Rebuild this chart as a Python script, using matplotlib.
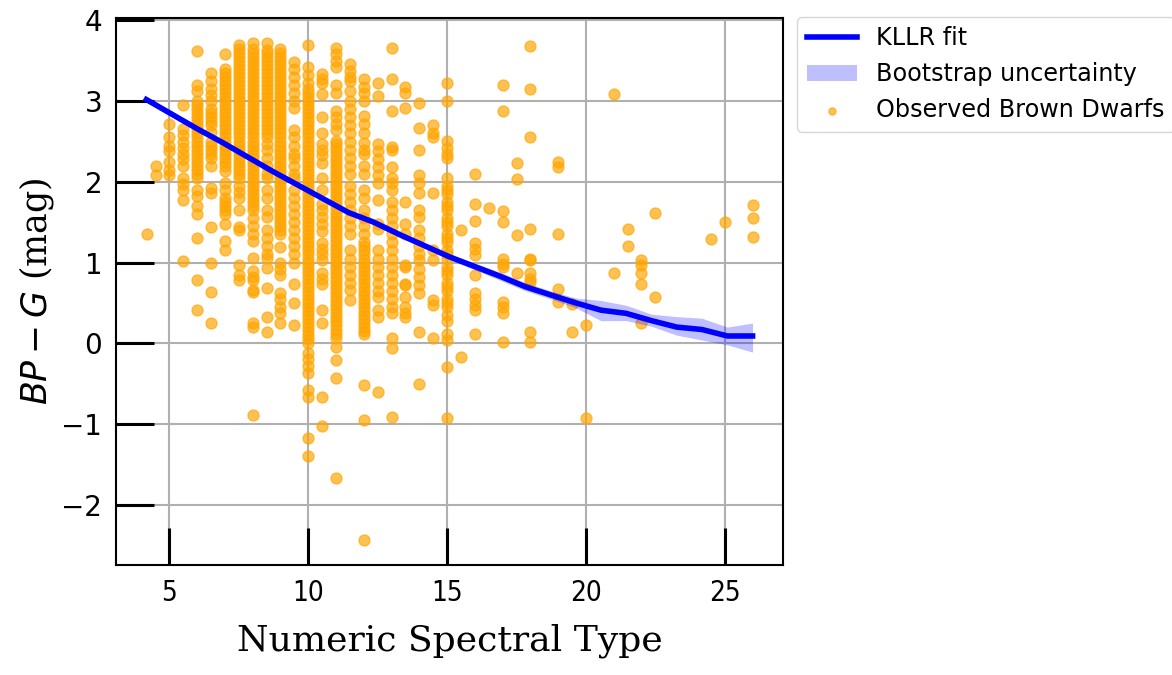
import matplotlib
matplotlib.use("Agg")
import matplotlib.pyplot as plt

# spectral type columns and BP-G colours
spt_cols = [4.2, 4.5, 5.0, 5.5, 6.0, 6.5, 7.0, 7.5, 8.0, 8.5, 9.0, 9.5, 10.0, 10.5,
            11.0, 11.5, 12.0, 12.5, 13.0, 13.5, 14.0, 14.5, 15.0, 15.5, 16.0, 16.5,
            17.0, 17.5, 18.0, 19.0, 19.5, 20.0, 21.0, 21.5, 22.0, 22.5, 24.5, 25.0, 26.0]
bpg_cols = [
    [1.35],
    [2.2, 2.08],
    [2.72, 2.55, 2.45, 2.38, 2.25, 2.15, 2.08],
    [2.95, 2.65, 2.58, 2.5, 2.42, 2.35, 2.28, 2.2, 2.05, 1.97, 1.9, 1.77, 1.02],
    [3.62, 3.2, 3.12, 3.0, 2.9, 2.8, 2.7, 2.6, 2.5, 2.4, 2.3, 2.2, 2.1, 2.05, 1.9, 1.82,
     1.7, 1.6, 1.31, 0.78, 0.41, 2.95, 2.85, 2.75, 2.65, 2.55, 2.45, 2.35, 2.25, 2.15],
    [3.35, 3.25, 3.15, 3.08, 3.0, 2.9, 2.8, 2.7, 2.62, 2.5, 2.4, 2.3, 2.2, 1.93, 1.86,
     1.44, 1.0, 0.63, 0.25, 2.85, 2.75, 2.45, 2.35],
    [3.59, 3.4, 3.3, 3.2, 3.1, 3.0, 2.9, 2.8, 2.7, 2.6, 2.5, 2.4, 2.3, 2.2, 2.14, 1.98,
     1.9, 1.8, 1.7, 1.6, 1.48, 1.27, 1.15, 3.35, 3.25, 3.15, 3.05, 2.95, 2.85, 2.75,
     2.65, 2.55, 2.45, 2.35, 2.25, 1.75, 1.65],
    [3.69, 3.6, 3.5, 3.4, 3.3, 3.2, 3.1, 3.0, 2.9, 2.8, 2.7, 2.6, 2.5, 2.4, 2.3, 2.2,
     2.1, 2.05, 1.95, 1.87, 1.8, 1.65, 1.44, 1.4, 0.97, 0.84, 0.78, 3.65, 3.55, 3.45,
     3.35, 3.25, 3.15, 3.05, 2.95, 2.85, 2.75, 2.65, 2.55, 2.45, 2.35, 2.25, 2.15],
    [3.72, 3.65, 3.55, 3.45, 3.35, 3.25, 3.15, 3.05, 2.95, 2.85, 2.75, 2.65, 2.55, 2.45,
     2.35, 2.25, 2.15, 2.05, 1.95, 1.85, 1.75, 1.65, 1.55, 1.45, 1.35, 1.27, 1.06, 0.9,
     0.82, 0.78, 0.66, 0.63, 0.25, 0.2, -0.89, 3.6, 3.5, 3.4, 3.3, 3.2, 3.1, 3.0, 2.9,
     2.8, 2.7, 2.6, 2.5, 2.4, 2.3, 2.2, 2.1, 2.0, 1.9, 1.8, 1.7],
    [3.72, 3.63, 3.55, 3.45, 3.35, 3.25, 3.15, 3.05, 2.95, 2.85, 2.75, 2.65, 2.55, 2.47,
     2.39, 2.3, 2.2, 2.1, 2.05, 1.9, 1.8, 1.65, 1.56, 1.4, 1.3, 1.2, 1.11, 1.06, 0.93,
     0.69, 0.32, 0.14, 3.6, 3.5, 3.4, 3.3, 3.2, 3.1, 3.0, 2.9, 2.8, 2.7, 2.6],
    [3.65, 3.55, 3.45, 3.35, 3.25, 3.15, 3.05, 2.95, 2.85, 2.75, 2.65, 2.55, 2.45, 2.35,
     2.25, 2.15, 2.05, 1.95, 1.85, 1.75, 1.65, 1.55, 1.45, 1.35, 1.19, 1.0, 0.92, 0.85,
     0.62, 0.55, 0.45, 0.37, 0.25, 3.6, 3.5, 3.4, 3.3, 3.2, 3.1, 3.0, 2.9, 2.8, 2.7,
     2.6, 2.5, 2.4, 2.3, 2.2, 2.1, 2.0, 1.9, 1.8, 1.7, 1.6, 1.5, 1.4],
    [3.48, 3.4, 3.3, 3.2, 3.1, 3.0, 2.92, 2.64, 2.55, 2.45, 2.35, 2.3, 2.2, 2.1, 2.05,
     1.9, 1.8, 1.7, 1.6, 1.5, 1.4, 1.3, 1.2, 1.11, 0.99, 0.74, 0.5, 0.22],
    [3.69, 3.42, 3.32, 3.22, 3.15, 3.05, 2.95, 2.85, 2.75, 2.65, 2.55, 2.45, 2.35, 2.25,
     2.15, 2.05, 1.95, 1.85, 1.75, 1.65, 1.55, 1.45, 1.35, 1.25, 1.15, 1.05, 0.95, 0.85,
     0.75, 0.65, 0.55, 0.45, 0.35, 0.25, 0.15, 0.05, 0.0, -0.12, -0.2, -0.28, -0.37,
     -0.58, -0.67, -1.18, -1.4, 3.1, 3.0, 2.9, 2.8, 2.7, 2.6, 2.5, 2.4, 2.3, 2.2, 2.1,
     2.0, 1.9, 1.8, 1.7, 1.6, 1.5, 1.4, 1.3, 1.2, 1.1, 1.0, 0.9, 0.8, 0.7, 0.6, 0.5,
     0.4, 0.3, 0.2, 0.1],
    [3.34, 3.27, 3.22, 3.09, 2.8, 2.6, 2.47, 2.4, 2.33, 2.23, 2.05, 1.9, 1.73, 1.65, 1.57,
     1.48, 1.39, 1.24, 1.17, 1.1, 1.03, 0.87, 0.8, 0.74, 0.41, 0.25, -0.67, -1.02],
    [3.66, 3.58, 3.5, 3.42, 3.2, 3.1, 2.88, 2.8, 2.72, 2.64, 2.51, 2.42, 2.32, 2.22, 2.12,
     2.02, 1.92, 1.82, 1.72, 1.62, 1.52, 1.42, 1.32, 1.22, 1.12, 1.02, 0.92, 0.82, 0.72,
     0.62, 0.52, 0.42, 0.32, 0.22, 0.12, 0.07, -0.05, -0.21, -0.43, -1.67, 2.47, 2.37,
     2.27, 2.17, 2.07, 1.97, 1.87, 1.77, 1.67, 1.57, 1.47, 1.37, 1.27, 1.17, 1.07, 0.97,
     0.87, 0.77, 0.67, 0.57, 0.47, 0.37, 0.27, 0.17],
    [3.46, 3.38, 3.3, 3.25, 3.13, 3.0, 2.9, 2.8, 2.7, 2.6, 2.5, 2.4, 2.3, 2.2, 2.1, 1.95,
     1.85, 1.75, 1.65, 1.55, 1.45, 1.35, 1.15, 1.05, 0.95, 0.85, 0.75, 0.66, 0.53],
    [3.28, 3.17, 3.1, 3.0, 2.82, 2.72, 2.6, 2.48, 2.4, 2.35, 2.2, 2.1, 1.9, 1.8, 1.65,
     1.55, 1.45, 1.35, 1.25, 1.15, 1.05, 0.95, 0.85, 0.75, 0.65, 0.55, 0.45, 0.35, 0.25,
     0.15, 0.12, -0.52, -0.95, -2.44, 1.2, 1.1, 1.0, 0.9, 0.8, 0.7, 0.6, 0.5, 0.4, 0.3,
     0.2],
    [3.22, 3.07, 2.47, 2.38, 2.28, 2.18, 2.08, 1.98, 1.77, 1.48, 1.42, 1.15, 1.05, 0.95,
     0.85, 0.75, 0.65, 0.57, 0.41, 0.32, -0.61],
    [3.66, 3.28, 2.88, 2.43, 2.39, 2.18, 2.05, 1.98, 1.9, 1.75, 1.65, 1.55, 1.45, 1.35,
     1.25, 1.15, 1.05, 0.95, 0.85, 0.75, 0.65, 0.55, 0.45, 0.37, 0.06, -0.06, -0.91],
    [3.17, 3.1, 2.92, 1.75, 1.48, 1.36, 0.97, 0.94, 0.74, 0.72, 0.57, 0.45, 0.38, 0.32],
    [2.98, 2.67, 2.39, 2.08, 1.98, 1.86, 1.65, 1.56, 1.4, 1.3, 1.2, 1.1, 1.03, 0.92, 0.82,
     0.72, 0.62, 0.14, -0.5],
    [2.7, 2.6, 2.55, 1.86, 1.15, 1.03, 0.53, 0.47, 0.06],
    [3.22, 3.0, 2.51, 2.42, 2.35, 2.3, 2.05, 1.95, 1.85, 1.75, 1.65, 1.55, 1.45, 1.35,
     1.25, 1.15, 1.05, 0.95, 0.85, 0.75, 0.65, 0.55, 0.45, 0.35, 0.28, 0.12, 0.04, -0.3,
     -0.93, 1.9, 1.7, 1.5, 1.3, 1.1, 0.9, 0.7, 0.5],
    [1.4, -0.17],
    [2.1, 1.73, 1.52, 1.24, 1.17, 1.09, 0.84, 0.62, 0.55, 0.48, 0.41, 0.12],
    [1.67],
    [3.2, 2.88, 1.64, 1.5, 1.05, 0.98, 0.94, 0.51, 0.45, 0.38, 0.02],
    [2.23, 2.04, 1.34, 0.87],
    [3.68, 3.15, 2.55, 1.41, 1.05, 1.03, 0.87, 0.8, 0.76, 0.14, 0.01],
    [2.24, 2.18, 1.36, 0.67, 0.51],
    [0.49, 0.14],
    [0.22, -0.93],
    [3.09, 0.87],
    [1.41, 1.2],
    [1.03, 0.97, 0.87, 0.73, 0.25],
    [1.62, 0.57],
    [1.29],
    [1.5],
    [1.71, 1.55, 1.32],
]

# KLLR fit and bootstrap band
fit_x = [4.17, 5.08, 5.99, 6.90, 7.81, 8.72, 9.63, 10.54, 11.45, 12.36, 13.27, 14.18,
         15.09, 16.0, 16.91, 17.82, 18.72, 19.63, 20.54, 21.45, 22.36, 23.27, 24.18,
         25.09, 26.0]
fit_y = [3.02, 2.84, 2.66, 2.49, 2.31, 2.13, 1.96, 1.79, 1.62, 1.50, 1.35, 1.21, 1.07,
         0.95, 0.83, 0.70, 0.60, 0.50, 0.41, 0.37, 0.28, 0.20, 0.17, 0.09, 0.09]
band_lo = [3.0, 2.82, 2.64, 2.47, 2.29, 2.11, 1.94, 1.77, 1.60, 1.47, 1.32, 1.18, 1.04,
           0.91, 0.78, 0.65, 0.55, 0.44, 0.28, 0.28, 0.21, 0.10, 0.04, -0.02, -0.11]
band_hi = [3.04, 2.86, 2.68, 2.51, 2.33, 2.15, 1.98, 1.81, 1.64, 1.53, 1.38, 1.24, 1.10,
           0.99, 0.88, 0.75, 0.65, 0.56, 0.53, 0.47, 0.36, 0.33, 0.31, 0.20, 0.25]

xs, ys = [], []
for t, vals in zip(spt_cols, bpg_cols):
    xs += [t] * len(vals)
    ys += vals

fig = plt.figure(figsize=(11.72, 6.75), dpi=100)
ax = fig.add_axes([0.099, 0.163, 0.569, 0.81])

ax.scatter(xs, ys, s=62, color="orange", alpha=0.68, label="Observed Brown Dwarfs", zorder=2)
ax.fill_between(fit_x, band_lo, band_hi, color="blue", alpha=0.25, lw=0,
                label="Bootstrap uncertainty", zorder=3)
ax.plot(fit_x, fit_y, color="blue", lw=4, label="KLLR fit", zorder=4)

ax.set_yticks([-2, -1, 0, 1, 2, 3, 4])
ax.set_xticks([5, 10, 15, 20, 25])
ax.grid(True, color="#b0b0b0", lw=1.5, zorder=0)
ax.set_axisbelow(True)
ax.tick_params(direction="in", length=27, width=2.2, labelsize=20, pad=10)
for lab in ax.get_xticklabels():
    lab.set_fontstretch("condensed")
for sp in ax.spines.values():
    sp.set_linewidth(1.5)

ax.set_xlabel("Numeric Spectral Type", family="serif", fontsize=26, labelpad=12)
ax.set_ylabel("$BP - G$ (mag)", family="serif", fontsize=25, labelpad=4)

h, l = ax.get_legend_handles_labels()
order = [2, 1, 0]
fig.legend([h[i] for i in order], [l[i] for i in order], loc="upper left",
           bbox_to_anchor=(0.680, 0.975), borderaxespad=0, fontsize=17.2,
           markerscale=0.65, handlelength=2.1)

fig.savefig("out.png", dpi=100)
